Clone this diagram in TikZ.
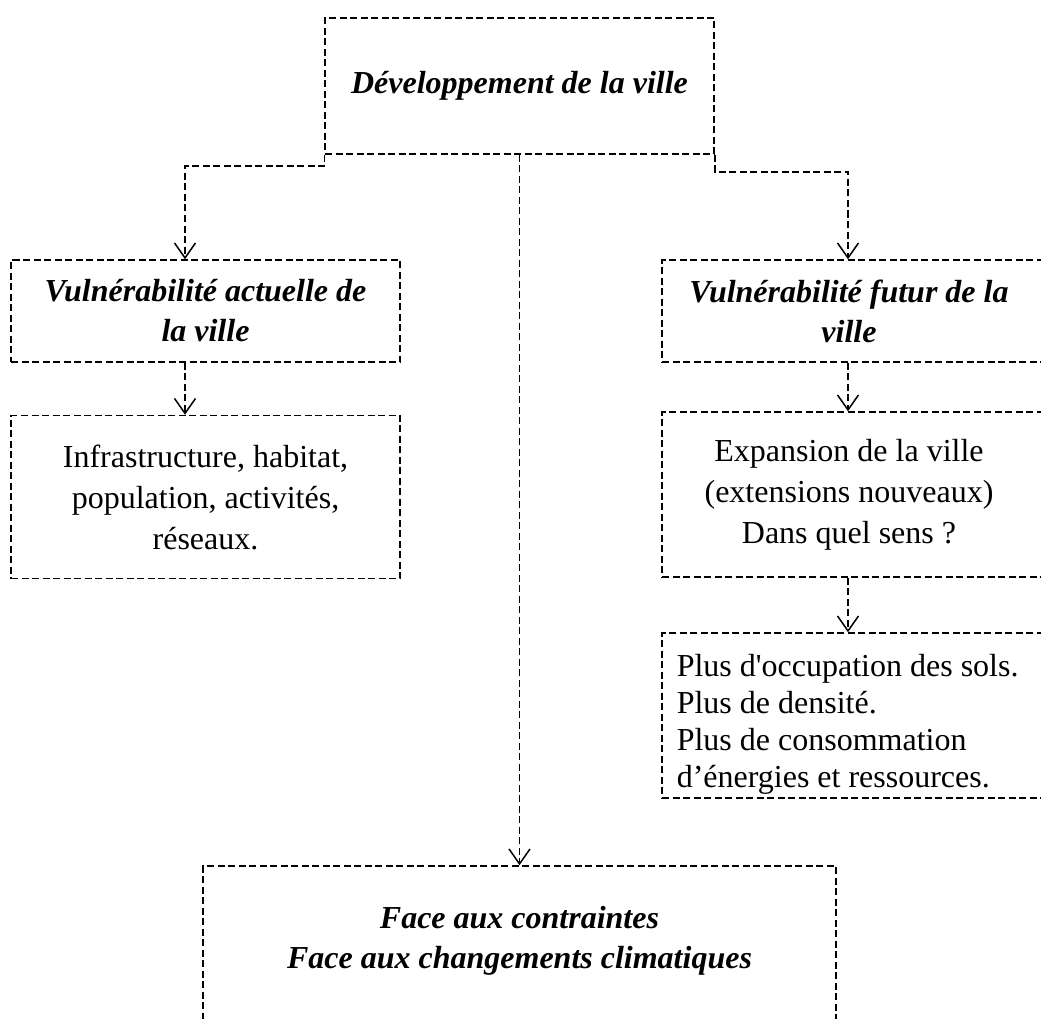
\documentclass[tikz,border=0pt]{standalone}
\usepackage{fontspec}
\setmainfont{Liberation Serif}[Ligatures=TeXOff]
\usetikzlibrary{arrows.meta}

\tikzset{
  boite/.style={draw, line width=1.5pt, dash pattern=on 7pt off 3.5pt, inner sep=0pt},
  titre/.style={font=\fontsize{32}{40}\selectfont\bfseries\itshape, align=center},
  corps/.style={font=\fontsize{32}{41}\selectfont, align=center},
  lien/.style={line width=1.5pt, dash pattern=on 7pt off 3.5pt,
    -{Straight Barb[length=15pt,width=21pt]}},
}

\begin{document}
\begin{tikzpicture}[x=1pt,y=-1pt]
  \useasboundingbox (0,0) rectangle (1041,1019);
  \clip (0,0) rectangle (1041,1019);

  % les boites
  \node[boite, titre, minimum width=389pt, minimum height=136pt] (dev) at (519.5,86) {Développement de la ville};
  \node[boite, titre, minimum width=389pt, minimum height=102pt] (vact) at (205.5,311) {Vulnérabilité actuelle de\\la ville};
  \node[boite, corps, minimum width=389pt, minimum height=163pt] (infra) at (205.5,497) {Infrastructure, habitat,\\population, activités,\\réseaux.};
  \node[boite, minimum width=418pt, minimum height=102pt,
    label={[titre, xshift=-22pt]center:{Vulnérabilité futur de la\\ville}}] (vfut) at (871,311) {};
  \node[boite, minimum width=418pt, minimum height=165pt,
    label={[corps, xshift=-22pt]center:{Expansion de la ville\\(extensions nouveaux)\\Dans quel sens ?}}] (expa) at (871,494.5) {};
  \node[boite, minimum width=418pt, minimum height=165pt,
    label={[corps, font=\fontsize{32}{37}\selectfont, align=left, anchor=west, xshift=12pt, yshift=-9pt]west:{Plus d'occupation des sols.\\Plus de densité.\\Plus de consommation\\d’énergies et ressources.}}] (plus) at (871,715.5) {};
  \node[boite, minimum width=633pt, minimum height=194pt,
    label={[titre, yshift=22pt]center:{Face aux contraintes\\Face aux changements climatiques}}] (face) at (519.5,963) {};

  % les liens
  \coordinate (cg) at (185,166);
  \coordinate (cd) at (848,172);
  \draw[lien] (dev.south west) |- (cg) -- (cg |- vact.north);
  \draw[lien] (dev.south east) |- (cd) -- (cd |- vfut.north);
  \draw[lien] (dev.south) -- (face.north);
  \draw[lien] (vact.south -| cg) -- (infra.north -| cg);
  \draw[lien] (vfut.south -| cd) -- (expa.north -| cd);
  \draw[lien] (expa.south -| cd) -- (plus.north -| cd);
\end{tikzpicture}
\end{document}
